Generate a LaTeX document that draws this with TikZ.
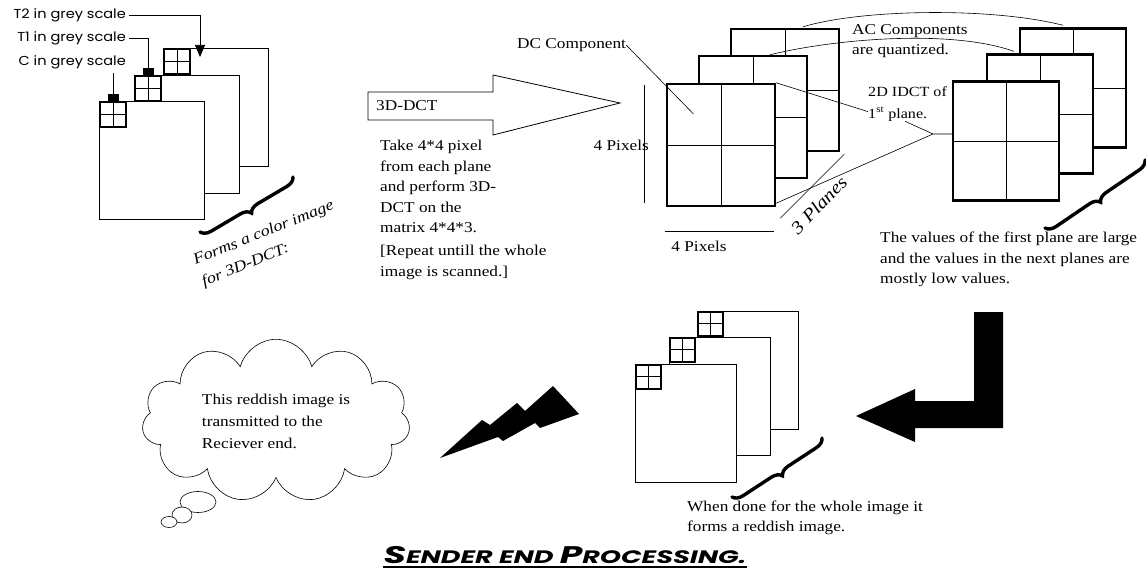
\documentclass[tikz,border=0pt]{standalone}
\usepackage{fontspec}
\setmainfont{Liberation Serif}[FakeStretch=1.15]
\newfontfamily\gothicfont{Poppins}[FakeStretch=1.12]
\newfontfamily\titlefont{Poppins}[FakeStretch=1.5]
\usetikzlibrary{shapes.symbols,shapes.geometric,arrows.meta,positioning,calc,decorations.pathreplacing}

\begin{document}
\begin{tikzpicture}[x=1pt, y=-1pt,
    plane/.style={draw, fill=white, line width=0.7pt, inner sep=0},
    dctplane/.style={draw, fill=white, line width=2.4pt, inner sep=0},
    gridbox/.style={draw, fill=white, line width=2.2pt, inner sep=0},
    cell/.style={line width=0.8pt},
    txt/.style={font=\fontsize{15}{20.5}\selectfont, align=left, inner sep=0},
    grey/.style={font=\gothicfont\fontsize{13}{14}\selectfont, inner sep=0},
    swoosh/.style={decorate, decoration={brace, amplitude=10pt}, line width=3.4pt, line cap=round},
    pin/.style={line width=0.7pt, -{Rectangle[length=7pt,width=10pt]}},
    pintri/.style={line width=0.7pt, -{Triangle[length=12pt,width=10pt]}}]

    \useasboundingbox (0,0) rectangle (1146,575);

    % Colour image made of three grey scale planes
    \foreach \n/\x/\y in {3/216/107, 2/187/134, 1/152/160} {
        \node[plane, minimum width=105, minimum height=118] (p\n) at (\x,\y) {};
        \node[gridbox, minimum width=26, minimum height=25, anchor=north west] (g\n) at (p\n.north west) {};
        \draw[cell] (g\n.north) -- (g\n.south) (g\n.west) -- (g\n.east);
    }
    \node[grey, anchor=east] (lt2) at (126,15) {T2 in grey scale};
    \node[grey, anchor=east] (lt1) at (126,38) {T1 in grey scale};
    \node[grey, anchor=east] (lc) at (126,62) {C in grey scale};
    \coordinate (t2pin) at (200,57);
    \draw[pintri] ([xshift=3pt]lt2.east) -| (t2pin);
    \draw[pin] ([xshift=3pt]lt1.east) -| (g2.north);
    \draw[pin] ($(lc.south -| g1.north)+(0,4)$) -- (g1.north);
    \draw[swoosh] (293,177) -- (200,232);
    \node[font=\itshape\fontsize{15.5}{23}\selectfont, align=left, inner sep=0, rotate=22] (forms) at (268,244) {Forms a color image\\for 3D-DCT:};

    % 3D-DCT arrow
    \draw[line width=0.8pt] (368,92) -- (493,92) -- (493,75) -- (620,103) -- (493,135) -- (493,120) -- (368,120) -- cycle;
    \node[txt, anchor=west] (dctlbl) at (376,106) {3D-DCT};
    \node[txt, anchor=north west] (take) at (380,140) {Take 4*4 pixel\\from each plane\\and perform 3D-\\DCT on the\\matrix 4*4*3.};
    \node[txt, below=12pt of take.south west, anchor=north west] (repeat) {[Repeat untill the whole\\image is scanned.]};

    % 4*4*3 block after 3D-DCT
    \foreach \n/\x/\y in {3/785/90, 2/753/117, 1/721/145} {
        \node[dctplane, minimum width=108, minimum height=122] (d\n) at (\x,\y) {};
        \draw[cell] (d\n.north) -- (d\n.south) (d\n.west) -- (d\n.east);
    }
    \node[txt, anchor=west] (dc) at (517,45) {DC Component};
    \draw[line width=0.6pt] (dc.east) -- ($(d1.north west)!0.5!(d1.center)$);
    \draw[line width=0.7pt] ($(d1.north west)+(-21,2)$) -- ($(d1.south west)+(-21,-4)$);
    \node[txt, anchor=east] (px1) at (649,145) {4 Pixels};
    \draw[line width=0.7pt] ($(d1.south west)+(-1,24)$) -- ($(d1.south east)+(-2,24)$);
    \node[txt] (px2) at (699,246) {4 Pixels};
    \draw[line width=0.5pt] ($(d1.south east)+(4,11)$) -- ($(d3.south east)+(4,2)$);
    \node[font=\itshape\fontsize{18}{20}\selectfont, inner sep=0, rotate=46] (planes) at (819,205) {3 Planes};

    % planes after quantization and 2D IDCT
    \foreach \n/\x/\y in {3/1073/88, 2/1040/114, 1/1006/141} {
        \node[dctplane, minimum width=106, minimum height=119] (r\n) at (\x,\y) {};
        \draw[cell] (r\n.north) -- (r\n.south) (r\n.west) -- (r\n.east);
    }
    \node[txt, anchor=north west] (ac) at (852,24) {AC Components\\are quantized.};
    \draw[line width=0.6pt] ($(d3.north)+(18,-1)$) .. controls +(60,-18) and +(-70,-18) .. ($(r3.north)+(-10,-2)$);
    \draw[line width=0.6pt] ($(d2.north)+(17,0)$) .. controls +(60,-15) and +(-65,-23) .. ($(r3.west |- r2.north)+(-5,-2)$);
    \node[txt, anchor=north west, font=\fontsize{14}{22}\selectfont] (idct) at (868,86) {2D IDCT of\\1\textsuperscript{st} plane.};
    \draw[line width=0.6pt] (d1.north east) -- ([yshift=-8pt]idct.west);
    \coordinate (jn) at (933,134);
    \draw[line width=0.6pt] ([yshift=4pt]d1.south east) -- (jn);
    \draw[line width=0.6pt] ($(idct.south west)+(37,0)$) -- (jn) -- (jn -| r1.west);
    \draw[swoosh] (1145,160) -- (1045,228);
    \node[txt, anchor=north west] (vals) at (880,232) {The values of the first plane are large\\and the values in the next planes are\\mostly low values.};

    % big return arrow
    \fill (974,312) -- (1003,312) -- (1003,428) -- (915,428) -- (915,442) -- (856,416) -- (915,389) -- (915,401) -- (974,401) -- cycle;

    % reddish image
    \foreach \n/\x/\y in {3/748/370, 2/720/396, 1/686/423} {
        \node[plane, minimum width=101, minimum height=118] (q\n) at (\x,\y) {};
        \node[gridbox, minimum width=25, minimum height=24, anchor=north west] (h\n) at (q\n.north west) {};
        \draw[cell] (h\n.north) -- (h\n.south) (h\n.west) -- (h\n.east);
    }
    \draw[swoosh] (822,438) -- (732,497);
    \node[txt, anchor=north west, font=\fontsize{15}{20}\selectfont] (done) at (687,501) {When done for the whole image it\\forms a reddish image.};

    % lightning
    \fill (440,458) -- (482,420) -- (490,425) -- (517,403) -- (525,411) -- (553,386) -- (579,414) -- (540,428) -- (535,423) -- (503,441) -- (498,437) -- cycle;

    % thought cloud
    \node[cloud, draw, fill=white, cloud puffs=11, aspect=1.7, minimum width=268, minimum height=157, txt, font=\fontsize{15}{22}\selectfont, line width=0.6pt] (cloud) at (276,421) {This reddish image is\\transmitted to the\\Reciever end.};
    \node[ellipse, draw, fill=white, line width=0.6pt, minimum width=36, minimum height=21, inner sep=0] (bub1) at (198,502) {};
    \node[ellipse, draw, fill=white, line width=0.6pt, minimum width=20, minimum height=16, inner sep=0] (bub2) at (182,515) {};
    \node[ellipse, draw, fill=white, line width=0.6pt, minimum width=16, minimum height=11, inner sep=0] (bub3) at (169,522) {};

    % title
    \node[font=\titlefont\bfseries\itshape, inner sep=0] (title) at (565,555) {{\fontsize{24}{24}\selectfont S}{\fontsize{18}{24}\selectfont ENDER END }{\fontsize{24}{24}\selectfont P}{\fontsize{18}{24}\selectfont ROCESSING.}};
    \draw[line width=1.8pt] ([yshift=-3pt]title.south west) -- ([yshift=-3pt]title.south east);
\end{tikzpicture}
\end{document}
